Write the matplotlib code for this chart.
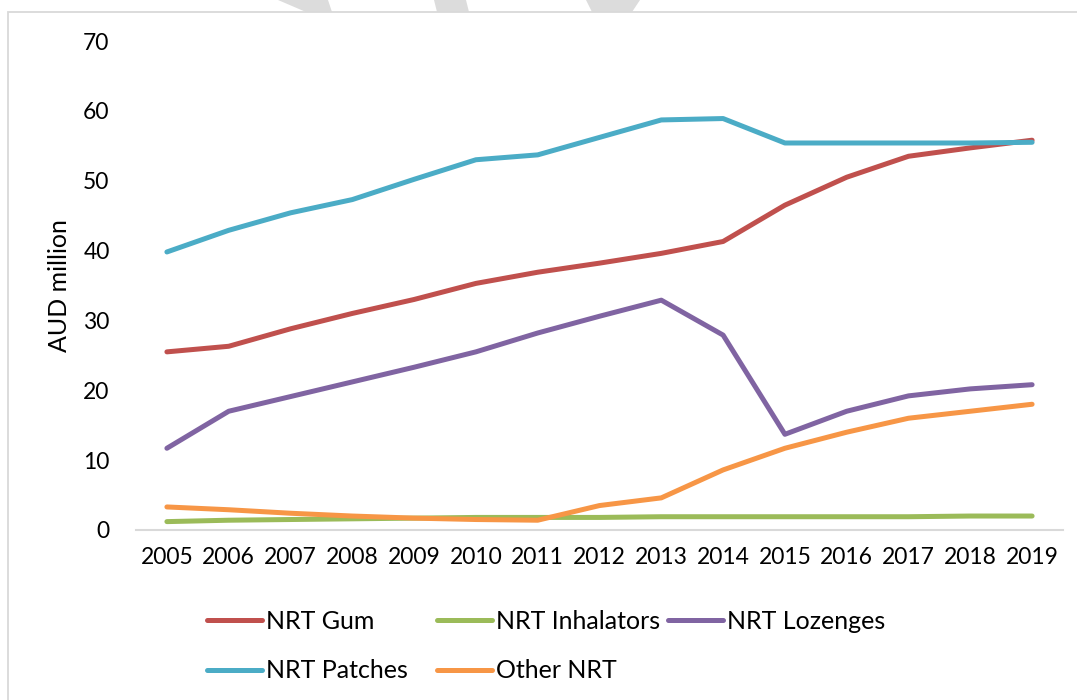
import matplotlib
matplotlib.use("Agg")
import matplotlib.pyplot as plt
from matplotlib.patches import Rectangle, Polygon

years = ["2005", "2006", "2007", "2008", "2009", "2010", "2011", "2012",
         "2013", "2014", "2015", "2016", "2017", "2018", "2019"]
nrt_gum = [25.5, 26.3, 28.8, 31.0, 33.0, 35.3, 36.9, 38.2, 39.6, 41.3, 46.5, 50.5, 53.5, 54.7, 55.8]
nrt_inhalators = [1.2, 1.4, 1.5, 1.6, 1.7, 1.8, 1.8, 1.8, 1.9, 1.9, 1.9, 1.9, 1.9, 2.0, 2.0]
nrt_lozenges = [11.7, 17.0, 19.1, 21.2, 23.3, 25.5, 28.2, 30.6, 32.9, 27.9, 13.7, 17.0, 19.2, 20.2, 20.8]
nrt_patches = [39.8, 42.9, 45.4, 47.3, 50.2, 53.0, 53.7, 56.2, 58.7, 58.9, 55.4, 55.4, 55.4, 55.4, 55.5]
other_nrt = [3.3, 2.9, 2.4, 2.0, 1.7, 1.5, 1.4, 3.5, 4.6, 8.6, 11.7, 14.0, 16.0, 17.0, 18.0]

series = [
    ("NRT Gum", nrt_gum, "#C0504D"),
    ("NRT Inhalators", nrt_inhalators, "#9BBB59"),
    ("NRT Lozenges", nrt_lozenges, "#8064A2"),
    ("NRT Patches", nrt_patches, "#4BACC6"),
    ("Other NRT", other_nrt, "#F79646"),
]

plt.rcParams['font.family'] = ['Lato', 'DejaVu Sans']
W, H = 1077, 700
fig = plt.figure(figsize=(W / 100, H / 100), dpi=100)

# watermark fragments at the very top
wm_color = "#dcdcdc"
for verts in [
    [(278, 0), (328, 0), (332, 12), (306, 12)],
    [(434, 0), (466, 0), (469, 12), (437, 12)],
    [(586, 0), (640, 0), (632, 12), (592, 12)],
]:
    fig.patches.append(Polygon([(x / W, 1 - y / H) for x, y in verts], closed=True,
                               transform=fig.transFigure, facecolor=wm_color,
                               edgecolor="none", zorder=-3))

# chart border
fig.patches.append(Rectangle((8 / W, -0.05), 1.1, 1.05 - 12 / H,
                             transform=fig.transFigure, facecolor="white",
                             edgecolor="#d9d9d9", lw=1.3, zorder=-2))

ax = fig.add_axes([136 / W, 1 - 530 / H, (1063 - 136) / W, (530 - 41) / H])
ax.set_facecolor("none")
x = list(range(len(years)))
handles = {}
for name, vals, col in series:
    ln, = ax.plot(x, vals, color=col, lw=3.6, solid_capstyle="round",
                  solid_joinstyle="round", label=name)
    handles[name] = ln

ax.set_xlim(-0.5, len(years) - 0.5)
ax.set_ylim(0, 70)
ax.set_yticks(range(0, 71, 10))
ax.set_xticks(x)
ax.set_xticklabels(years)
for s in ["top", "right", "left"]:
    ax.spines[s].set_visible(False)
ax.spines["bottom"].set_color("#d9d9d9")
ax.spines["bottom"].set_linewidth(1.5)
ax.tick_params(axis="both", length=0, labelsize=16.5, colors="black")
ax.tick_params(axis="y", pad=19)
ax.tick_params(axis="x", pad=12)
ax.set_ylabel("AUD million", fontsize=18)
ax.yaxis.set_label_coords(-0.070, 0.5)

groups = [
    (["NRT Gum", "NRT Patches"], 207),
    (["NRT Inhalators", "Other NRT"], 437),
    (["NRT Lozenges"], 668),
]
for names, xpx in groups:
    leg = fig.legend([handles[n] for n in names], names, loc="upper left",
                     bbox_to_anchor=(xpx / W, 1 - 610 / H), frameon=False,
                     fontsize=18, borderpad=0, borderaxespad=0,
                     handlelength=2.2, handletextpad=0.15, labelspacing=1.05)

fig.savefig("out.png", dpi=100)
